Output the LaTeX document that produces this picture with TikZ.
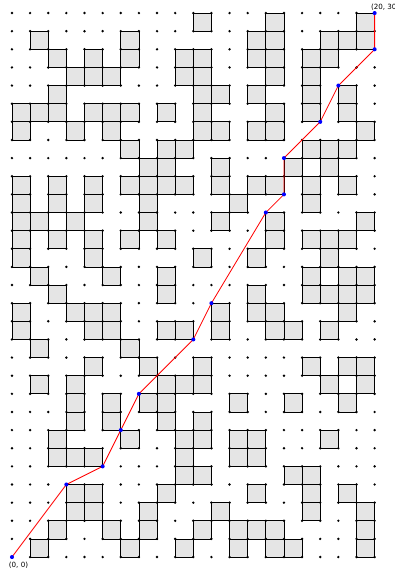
\documentclass[tikz,border=0pt]{standalone}
\usepackage{fontspec}
\setmainfont{DejaVu Sans}
\usepackage{xcolor}

\begin{document}
\begin{tikzpicture}[
  x=0.5cm, y=0.5cm,
  cell/.style={draw=black, fill=black!10, line width=0.6pt},
  route/.style={draw=red, line width=0.65pt},
  corner/.style={inner sep=0pt, font=\fontsize{5.6}{6.5}\selectfont}
]
\useasboundingbox (-0.66,-0.77) rectangle (21.07,30.72);
% blocked cells, row by row (lower left corners)
\foreach \row/\cols in {
  29/{10,14,19}, 28/{1,6,13,14,17,18,19}, 27/{2,4,6,9,10,13,14,16,17},
  26/{3,4,5,9,10,14,16}, 25/{2,10,11,13,16,18}, 24/{0,1,2,4,5,6,8,10,14,16,18},
  23/{0,3,5,10,11,13,14,19}, 22/{6,8,9,16,17,18}, 21/{7,8,11,15,17},
  20/{0,2,4,6,7,8,9,11,13,14,16,18}, 19/{0,2,4,7,12,16}, 18/{0,1,3,7,11,14,19},
  17/{0,2,4,6,8,14,16,17,18}, 16/{0,4,10,13,17}, 15/{1,5,8,16,18,19},
  14/{2,8,13,16,17,18,19}, 13/{0,3,4,5,11,13,14,18}, 12/{0,4,5,8,9,11,14,15,17},
  11/{1,6}, 10/{4,7,10,16,18,19}, 9/{1,3,8,9,10,17,19}, 8/{3,5,7,8,12,15,18},
  7/{3,5,8,10}, 6/{2,6,9,10,12,13,17}, 5/{2,3,4,9,12,13}, 4/{9,10,15,16},
  3/{3,4,8,13,16,18}, 2/{3,4,7,11,16,19}, 1/{2,5,7,10,12,13,14,19},
  0/{1,6,9,12,14,15,19}}
  \foreach \col in \cols
    \filldraw[cell] (\col,\row) rectangle ++(1,1);
% lattice points
\foreach \i in {0,...,20}
  \foreach \j in {0,...,30}
    \fill (\i,\j) circle (1.05pt);
% waypoints of the route
\foreach \k/\px/\py in {0/0/0, 1/3/4, 2/5/5, 3/6/7, 4/7/9, 5/10/12, 6/11/14,
  7/14/19, 8/15/20, 9/15/22, 10/17/24, 11/18/26, 12/20/28, 13/20/30}
  \coordinate (w\k) at (\px,\py);
\draw[route] (w0) \foreach \k in {1,...,13} { -- (w\k) };
\foreach \k in {0,...,13}
  \fill[blue] (w\k) circle (1.6pt);
\node[corner, anchor=north west, xshift=-2.6pt, yshift=-3.6pt] (start) at (w0) {(0, 0)};
\node[corner, anchor=south west, xshift=-3pt, yshift=2.2pt] (goal) at (w13) {(20, 30)};
\end{tikzpicture}
\end{document}
